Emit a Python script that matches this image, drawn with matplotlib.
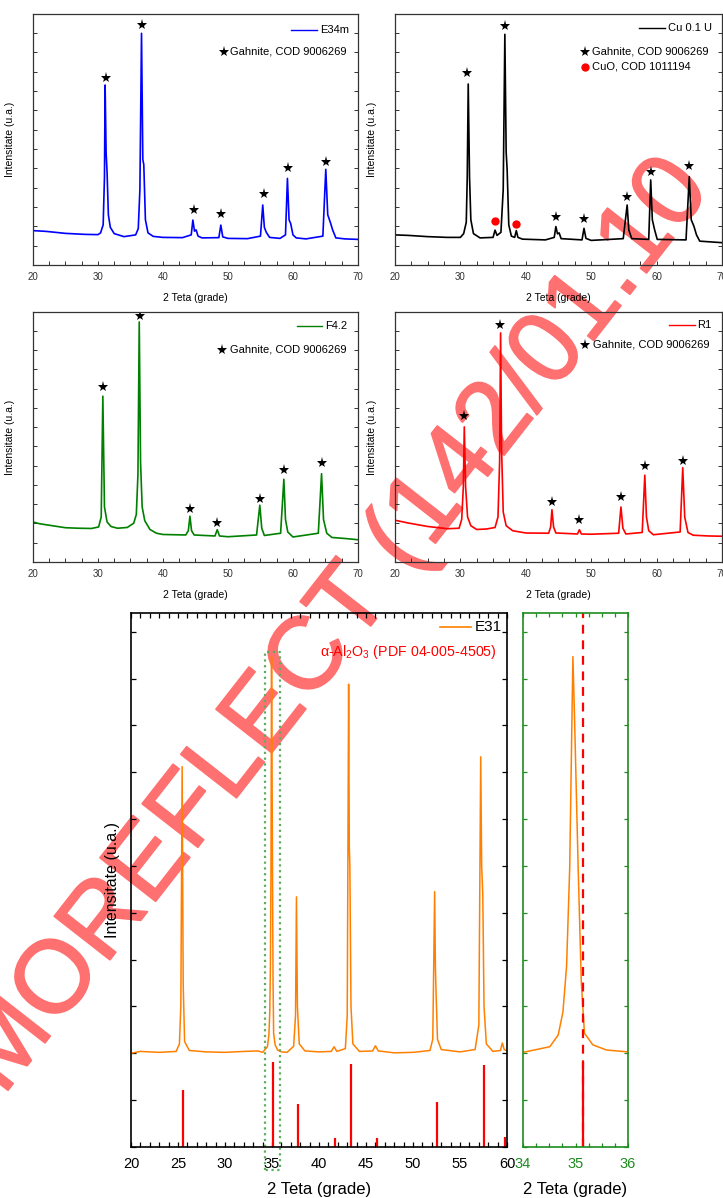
import matplotlib
matplotlib.use("Agg")
import matplotlib.pyplot as plt
import matplotlib.patheffects as pe
from matplotlib.ticker import MultipleLocator

plt.rcParams["font.family"] = ["Liberation Sans", "DejaVu Sans"]
plt.rcParams["mathtext.fontset"] = "custom"
plt.rcParams["mathtext.rm"] = "Liberation Sans"
plt.rcParams["mathtext.it"] = "Liberation Sans:italic"

# --- E34m (albastru) ---
e34_x = [20, 22, 25, 28, 30, 30.4, 30.8, 31.0, 31.1, 31.25, 31.4, 31.6, 31.9, 32.5, 34, 35.8, 36.2,
         36.45, 36.7, 36.9, 37.05, 37.3, 37.7, 38.5, 40, 43, 44.35, 44.6, 44.85, 45.1, 45.4, 46, 48.6,
         48.9, 49.2, 50, 53, 55.0, 55.35, 55.6, 55.9, 56.4, 58, 58.85, 59.15, 59.4, 59.65, 60.0,
         60.5, 62, 64.6, 65.05, 65.35, 65.75, 66.1, 66.6, 68, 70]
e34_y = [13.7, 13.4, 12.6, 12.2, 12.1, 12.8, 16, 35, 71.7, 45, 37, 20, 15, 12.5, 11.3, 12.0, 14.5,
         30, 92.3, 42, 40, 18, 12.8, 11.4, 11.0, 10.9, 12, 17.9, 13.5, 14.0, 11.5, 10.8, 10.9,
         15.9, 11.2, 10.6, 10.5, 11.5, 23.9, 15, 13, 11.0, 10.6, 12, 34.5, 18, 16.5, 12,
         10.8, 10.4, 11.5, 38.1, 20, 17, 14, 10.8, 10.4, 10.2]
e34_star_x = [31.2, 36.8, 44.7, 48.9, 55.5, 59.3, 65.1]
e34_star_y = [74.6, 95.6, 21.9, 20.2, 28.2, 38.5, 41.0]

# --- Cu 0.1 U (negru) ---
cu_x = [20, 22, 25, 28, 30, 30.5, 30.9, 31.05, 31.2, 31.4, 31.6, 32, 33, 35.0, 35.3, 35.6, 36.2, 36.55,
        36.8, 37.0, 37.15, 37.4, 37.8, 38.3, 38.55, 38.8, 39.5, 43, 44.35, 44.6, 44.85, 45.1, 45.4,
        48.6, 48.9, 49.2, 50, 54.9, 55.5, 55.75, 56.2, 58.8, 59.1, 59.35, 59.7, 60.1, 64.5, 65.0,
        65.3, 65.7, 66.1, 66.6, 70]
cu_y = [12.0, 11.8, 11.3, 11.0, 11.0, 12.5, 17, 35, 72.1, 35, 18, 12.5, 10.8, 11, 13.9, 11.8, 13, 30,
        91.9, 45, 38, 16, 11.5, 11, 13.7, 11, 10.3, 10.0, 11, 15.3, 12.4, 12.8, 10.5,
        10.0, 14.6, 10.6, 9.8, 10.5, 23.9, 14, 10.5, 10.2, 33.9, 18, 14, 10.2, 10.0, 35.2,
        18, 15.5, 12, 9.5, 8.9]
cu_star_x = [31.0, 36.8, 44.6, 48.9, 55.5, 59.2, 65.0]
cu_star_y = [76.4, 95.2, 19.0, 18.2, 27.2, 37.2, 39.4]
cuo_x = [35.3, 38.5]
cuo_y = [17.7, 16.3]

# --- F4.2 (verde) ---
f42_x = [20, 21, 23, 25, 27, 29, 30.1, 30.5, 30.75, 31.0, 31.4, 32, 33, 34.5, 35.5, 35.9, 36.15, 36.35,
         36.55, 36.8, 37.2, 38, 39, 40, 43.5, 43.9, 44.15, 44.4, 44.8, 48.0, 48.35, 48.7, 50, 54.4,
         54.9, 55.2, 55.6, 58.1, 58.6, 58.85, 59.2, 60, 63.9, 64.4, 64.7, 65.2, 66, 68, 70]
f42_y = [16.0, 15.3, 14.5, 13.7, 13.5, 13.4, 14, 18, 66.3, 22, 16, 14.2, 13.5, 13.8, 15.5, 19, 35, 96.0,
         40, 22, 16.5, 13, 11.5, 11.0, 10.8, 12.5, 18.3, 12.5, 10.8, 10.4, 12.9, 10.4, 10.1, 10.8,
         22.7, 13.5, 10.6, 11.5, 33.1, 17, 12, 10, 11.5, 35.3, 17, 11.5, 9.8, 9.4, 8.9]
f42_star_x = [30.8, 36.4, 44.15, 48.35, 54.9, 58.6, 64.4]
f42_star_y = [70.0, 98.3, 21.3, 15.7, 25.3, 36.7, 39.7]

# --- R1 (rosu) ---
r1_x = [20, 22, 25, 28, 29.8, 30.2, 30.45, 30.6, 30.8, 31.1, 31.6, 32.5, 34, 35.3, 35.75, 36.0, 36.15,
        36.3, 36.55, 37, 38, 40, 43.5, 43.8, 44.0, 44.25, 44.6, 47.9, 48.2, 48.5, 50, 54.2, 54.55,
        54.85, 55.3, 57.8, 58.2, 58.45, 58.8, 59.5, 63.6, 64.0, 64.3, 64.8, 65.6, 68, 70]
r1_y = [16.7, 15.6, 14.2, 13.3, 13.5, 17, 30, 54.0, 30, 18, 14.5, 13, 13.2, 13.8, 18, 40, 91.6,
        45, 20, 14.5, 12.5, 11.6, 11.5, 14, 20.9, 14, 11.6, 11.2, 12.9, 11.2, 11.1, 11.5, 22.0,
        13.5, 11.2, 11.8, 34.7, 18, 12.5, 10.9, 12, 37.7, 18, 11.8, 10.7, 10.4, 10.3]
r1_star_x = [30.6, 36.1, 44.0, 48.2, 54.5, 58.2, 64.0]
r1_star_y = [58.3, 94.7, 24.0, 16.7, 26.0, 38.4, 40.4]

# --- E31 (portocaliu) + linii de referinta alfa-Al2O3 ---
e31_x = [20, 21, 23, 24.8, 25.15, 25.3, 25.44, 25.55, 25.7, 26.2, 28, 30, 32, 33.5,
         34.0, 34.51, 34.67, 34.76, 34.83, 34.89, 34.95, 34.98, 35.05, 35.11, 35.17, 35.33, 35.59, 36.0,
         36.6, 37.3, 37.5, 37.6, 37.7, 37.9, 38.5, 40, 41.3, 41.6, 41.9, 42.8, 43.0, 43.15, 43.22,
         43.28, 43.4, 43.6, 44.3, 45.7, 46.0, 46.3, 48, 50, 51.8, 52.1, 52.3, 52.38, 52.45, 52.6,
         53.0, 55, 56.6, 57.0, 57.2, 57.3, 57.42, 57.55, 57.8, 58.5, 59.3, 59.5, 59.7, 60]
e31_y = [20.0, 20.4, 20.2, 20.4, 22, 30, 81.2, 35, 22.5, 20.6, 20.3, 20.2, 20.4, 20.5,
         20.2, 21.4, 23.9, 28.8, 38.6, 59.8, 104.7, 92.3, 59.8, 35.3, 24.3, 21.8, 20.7, 20.3,
         20.2, 21.5, 28, 53.4, 30, 22, 20.5, 20.3, 20.4, 21.4, 20.4, 21.0, 28, 98.8, 64.1,
         60, 30, 22, 20.4, 20.5, 21.6, 20.5, 20.1, 20.2, 20.6, 23, 54.5, 38.2, 33, 23,
         20.8, 20.3, 20.8, 26, 83.3, 60, 54.0, 30, 22, 20.4, 20.6, 22.2, 20.8, 20.5]
al2o3_pos = [25.58, 35.15, 37.78, 41.68, 43.36, 46.18, 52.55, 57.50, 59.74]
al2o3_int = [12.2, 18.1, 9.2, 1.9, 17.8, 2.0, 9.7, 17.4, 2.1]

# zona marita (34-36 grade)
zoom_lo, zoom_hi = 34.25, 35.9
zoom_box_bottom, zoom_box_top = -4.9, 105.7

ORANGE = "#ff8000"
GREEN_AX = "#1e8c1e"
GREEN_BOX = "#5cad5c"

fig = plt.figure(figsize=(7.23, 11.98), dpi=100)


def xrd_panel(rect, x, y, color, name, star_x, star_y, leg):
    ax = fig.add_axes(rect)
    ax.patch.set_alpha(0)
    ax.plot(x, y, color=color, lw=1.2)
    ax.plot(star_x, star_y, ls="none", marker="*", ms=8, color="black", mew=0)
    ax.set_xlim(20, 70)
    ax.set_ylim(0, 100)
    ax.xaxis.set_major_locator(MultipleLocator(10))
    ax.xaxis.set_minor_locator(MultipleLocator(2.5))
    ax.yaxis.set_major_locator(MultipleLocator(7.7))
    ax.tick_params(which="both", direction="in", length=3, width=0.7, right=True,
                   labelleft=False, labelsize=7, pad=5, colors="#333333")
    for s in ax.spines.values():
        s.set_linewidth(0.9)
        s.set_color("#333333")
    ax.set_xlabel("2 Teta (grade)", fontsize=7.5, labelpad=8)
    ax.set_ylabel("Intensitate (u.a.)", fontsize=7.5)
    ax.yaxis.set_label_coords(-0.055, 0.5)

    # legenda desenata manual (linie + marcaj stea)
    lx0, lx1, tx, y1, sx, stx, y2 = leg
    ax.plot([lx0, lx1], [y1, y1], color=color, lw=1.0, transform=ax.transAxes)
    ax.text(tx, y1, name, fontsize=8, va="center", transform=ax.transAxes)
    ax.plot(sx, y2, marker="*", ms=8, color="black", mew=0, transform=ax.transAxes)
    ax.text(stx, y2, "Gahnite, COD 9006269", fontsize=8, va="center", transform=ax.transAxes)
    return ax


xrd_panel([0.0456, 0.7788, 0.4495, 0.2095], e34_x, e34_y, "#0000ff", "E34m",
          e34_star_x, e34_star_y, (0.794, 0.874, 0.883, 0.936, 0.588, 0.606, 0.849))
ax_cu = xrd_panel([0.5463, 0.7788, 0.4523, 0.2095], cu_x, cu_y, "black", "Cu 0.1 U",
                  cu_star_x, cu_star_y, (0.746, 0.826, 0.835, 0.944, 0.581, 0.602, 0.849))
ax_cu.plot(cuo_x, cuo_y, ls="none", marker="o", ms=6, color="red", mew=0)
ax_cu.plot(0.581, 0.789, marker="o", ms=6, color="red", mew=0, transform=ax_cu.transAxes)
ax_cu.text(0.602, 0.789, "CuO, COD 1011194", fontsize=8, va="center", transform=ax_cu.transAxes)
xrd_panel([0.0456, 0.5309, 0.4495, 0.2087], f42_x, f42_y, "#008000", "F4.2",
          f42_star_x, f42_star_y, (0.812, 0.889, 0.898, 0.945, 0.582, 0.606, 0.848))
xrd_panel([0.5463, 0.5309, 0.4523, 0.2087], r1_x, r1_y, "#ff0000", "R1",
          r1_star_x, r1_star_y, (0.838, 0.917, 0.924, 0.948, 0.581, 0.606, 0.868))

# --- grafic principal E31 ---
ax = fig.add_axes([0.1812, 0.0426, 0.5201, 0.4457])
ax.patch.set_alpha(0)
ax.plot(e31_x, e31_y, color=ORANGE, lw=1.1)
ax.vlines(al2o3_pos, 0, al2o3_int, color="red", lw=1.6)
ax.plot([zoom_lo, zoom_lo, zoom_hi, zoom_hi, zoom_lo],
        [zoom_box_bottom, zoom_box_top, zoom_box_top, zoom_box_bottom, zoom_box_bottom],
        ls=(0, (1, 1.6)), lw=1.6, color=GREEN_BOX, clip_on=False)
ax.set_xlim(20, 60)
ax.set_ylim(0, 114)
ax.xaxis.set_major_locator(MultipleLocator(5))
ax.xaxis.set_minor_locator(MultipleLocator(1))
ax.yaxis.set_major_locator(MultipleLocator(10))
ax.tick_params(which="both", direction="in", length=3.5, width=0.9, top=True, right=True,
               labelleft=False, labelsize=10.5, pad=7)
for s in ax.spines.values():
    s.set_linewidth(1.2)
ax.set_xlabel("2 Teta (grade)", fontsize=12, labelpad=8)
ax.set_ylabel("Intensitate (u.a.)", fontsize=11.5)
ax.yaxis.set_label_coords(-0.028, 0.5)
ax.plot([0.822, 0.904], [0.974, 0.974], color=ORANGE, lw=1.2, transform=ax.transAxes)
ax.text(0.915, 0.974, "E31", fontsize=11, va="center", transform=ax.transAxes)
ax.text(0.973, 0.927, r"α-Al$_2$O$_3$ (PDF 04-005-4505)", fontsize=10.3, color="red",
        ha="right", va="center", transform=ax.transAxes)

# --- detaliu 34-36 grade ---
az = fig.add_axes([0.7234, 0.0426, 0.1452, 0.4457])
az.patch.set_alpha(0)
az.plot(e31_x, e31_y, color=ORANGE, lw=1.1)
az.vlines(al2o3_pos, 0, al2o3_int, color="red", lw=1.6)
az.axvline(al2o3_pos[1], color="red", lw=1.6, ls=(0, (4, 3)))
az.set_xlim(34, 36)
az.set_ylim(0, 114)
az.xaxis.set_major_locator(MultipleLocator(1))
az.xaxis.set_minor_locator(MultipleLocator(0.25))
az.yaxis.set_major_locator(MultipleLocator(10))
az.tick_params(which="both", direction="in", length=3, width=0.9, top=True, right=True,
               labelleft=False, labelsize=10.5, pad=7, colors=GREEN_AX, labelcolor=GREEN_AX)
for s in az.spines.values():
    s.set_linewidth(1.2)
    s.set_color(GREEN_AX)
az.set_xlabel("2 Teta (grade)", fontsize=12, labelpad=8)

# stampila proiect
fig.text(-0.025, 0.098, "MOREFLECT (142/01.10", rotation=52, rotation_mode="anchor",
         ha="left", va="center", fontsize=74, color="#ff7070", zorder=-1,
         path_effects=[pe.Stroke(linewidth=1.2, foreground="#ff7070", joinstyle="round",
                                 capstyle="round"), pe.Normal()])

fig.savefig("out.png", dpi=100)
